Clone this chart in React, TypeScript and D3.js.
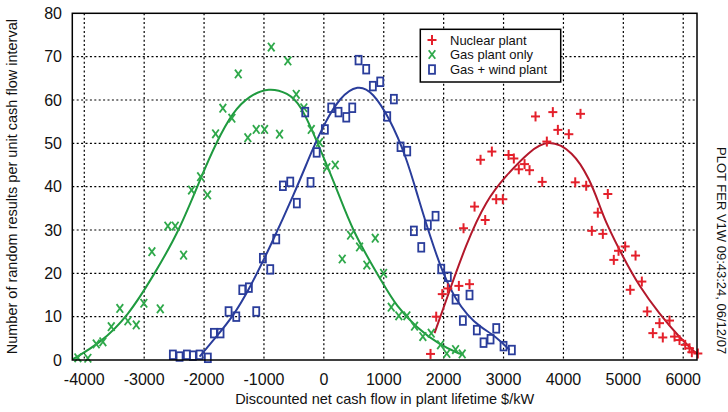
import * as d3 from "d3";

// x ticks and y ticks
const xTicks = [-4000, -3000, -2000, -1000, 0, 1000, 2000, 3000, 4000, 5000, 6000];
const yTicks = [0, 10, 20, 30, 40, 50, 60, 70, 80];

// markers: [cash flow $/kW, count]
const nuclearPts = [
  [1781, 1.4], [1876, 10.0], [1977, 15.2], [2070, 16.5], [2254, 17.1], [2432, 17.5],
  [2332, 30.4], [2516, 35.4], [2616, 46.2], [2694, 32.3], [2805, 48.1], [2878, 37.1],
  [2988, 37.1], [3084, 47.3], [3172, 46.5], [3255, 44.0], [3351, 45.2], [3434, 43.8],
  [3534, 56.2], [3646, 41.1], [3723, 50.4], [3823, 57.2], [3907, 53.1], [4090, 52.1],
  [4197, 41.0], [4285, 56.8], [4380, 40.2], [4474, 29.8], [4574, 34.0], [4658, 29.1],
  [4741, 38.3], [4841, 23.1], [4920, 25.2], [5031, 26.2], [5115, 16.2], [5204, 24.1],
  [5309, 18.1], [5399, 11.2], [5493, 6.2], [5604, 8.5], [5659, 5.2], [5771, 9.1],
  [5855, 5.4], [5938, 4.6], [6033, 3.5], [6105, 2.7], [6144, 1.8], [6244, 1.5],
];

const gasPts = [
  [-4107, 0.5], [-3940, 0.4], [-3800, 3.7], [-3689, 4.2], [-3549, 7.7], [-3406, 11.9],
  [-3272, 9.0], [-3132, 8.1], [-3005, 13.1], [-2871, 25.0], [-2731, 11.8], [-2604, 30.9],
  [-2481, 30.9], [-2342, 24.2], [-2209, 39.2], [-2058, 42.3], [-1942, 38.1], [-1808, 52.2],
  [-1686, 58.1], [-1536, 55.8], [-1429, 66.0], [-1269, 51.3], [-1129, 53.2], [-990, 53.2],
  [-878, 72.2], [-740, 52.1], [-601, 69.0], [-461, 61.3], [-334, 58.2], [-210, 53.2],
  [-72, 50.2], [50, 44.4], [190, 45.0], [307, 23.3], [446, 28.8], [596, 26.1],
  [718, 21.9], [858, 28.1], [997, 20.0], [1125, 12.2], [1252, 10.2], [1386, 10.2],
  [1514, 7.8], [1653, 5.4], [1793, 6.2], [1948, 3.5], [2053, 1.5], [2199, 2.4], [2310, 1.4],
];

const windPts = [
  [-2521, 1.2], [-2409, 0.8], [-2287, 1.2], [-2187, 1.0], [-2075, 1.2], [-1937, 0.5],
  [-1836, 6.2], [-1725, 6.2], [-1591, 11.2], [-1462, 10.0], [-1362, 16.2], [-1252, 16.7],
  [-1129, 11.2], [-1018, 23.5], [-895, 20.9], [-795, 27.9], [-684, 40.2], [-561, 41.1],
  [-451, 36.2], [-311, 57.2], [-222, 41.0], [-120, 47.9], [17, 53.2], [123, 58.2],
  [245, 57.2], [374, 56.0], [474, 58.2], [579, 69.2], [707, 67.1], [818, 63.2],
  [941, 64.2], [1058, 56.2], [1169, 60.2], [1280, 49.2], [1392, 48.2], [1503, 29.8],
  [1626, 26.0], [1736, 31.2], [1865, 33.2], [1960, 21.0], [2070, 19.2], [2199, 14.0],
  [2321, 9.1], [2432, 15.0], [2554, 6.9], [2666, 4.0], [2783, 4.8], [2878, 7.3],
  [3000, 3.2], [3139, 2.3],
];

// fitted curves (smoothed with a basis spline)
const nuclearFit = [
  [1848, 6.2], [2043, 13.8], [2377, 26.9], [2711, 36.9], [3045, 42.6], [3434, 48.2],
  [3750, 51.0], [4157, 48.2], [4436, 41.8], [4600, 35.8], [4715, 31.5], [4992, 23.8],
  [5270, 16.9], [5604, 10.6], [5938, 5.2], [6217, 1.5],
];
const gasFit = [
  [-4190, 0.2], [-3745, 3.8], [-3272, 10], [-2800, 20.5], [-2409, 30], [-2047, 42.3],
  [-1796, 50.2], [-1519, 57.3], [-1240, 61.0], [-918, 62.9], [-600, 61.6], [-389, 59],
  [-117, 50.5], [95, 43.5], [262, 37.7], [480, 30], [800, 22], [985, 17.7], [1208, 12.5],
  [1542, 7.5], [1932, 3.5], [2265, 1.4], [2330, 1.3],
];
const windFit = [
  [-2075, 0.8], [-1800, 5.3], [-1519, 10], [-1240, 16.5], [-908, 25.8], [-489, 38.5],
  [-184, 48.8], [0, 54.3], [262, 60.6], [568, 63.6], [818, 61.8], [1097, 55.8], [1376, 46.9],
  [1569, 37.7], [1793, 27.7], [1987, 20], [2200, 14], [2400, 10.3], [2600, 7.7],
  [2878, 5.4], [3100, 2.3],
];

const W = 728;
const H = 412;
const left = 72.3;
const right = 697;
const top = 13.3;
const bottom = 360;

const RED = "#e4202b";
const RED_LINE = "#b3182b";
const GREEN = "#2ea84a";
const GREEN_LINE = "#1f9a3f";
const BLUE = "#2a3d9b";
const FONT = "Arial, 'Liberation Sans', Helvetica, sans-serif";

const Plus = ({ x, y }) => (
  <g transform={`translate(${x},${y})`} stroke={RED} strokeWidth={2}>
    <line x1={-4.5} x2={4.5} y1={0} y2={0} />
    <line x1={0} x2={0} y1={-5} y2={5} />
  </g>
);

const Cross = ({ x, y }) => (
  <g transform={`translate(${x},${y})`} stroke={GREEN} strokeWidth={1.8}>
    <line x1={-3.3} x2={3.3} y1={-4.3} y2={4.3} />
    <line x1={3.3} x2={-3.3} y1={-4.3} y2={4.3} />
  </g>
);

const Box = ({ x, y }) => (
  <rect x={x - 3} y={y - 4.3} width={6} height={8.6} fill="none" stroke={BLUE} strokeWidth={1.8} />
);

export default function App() {
  const xScale = d3.scaleLinear().domain([-4200, 6230]).range([left, right]);
  const yScale = d3.scaleLinear().domain([0, 80]).range([bottom, top]);

  const line = d3
    .line()
    .x((d) => xScale(d[0]))
    .y((d) => yScale(d[1]))
    .curve(d3.curveBasis);

  return (
    <div style={{ position: "absolute", left: 0, top: 0 }}>
      <svg width={W} height={H} style={{ display: "block", background: "#fff" }} fontFamily={FONT}>
        <defs>
          <clipPath id="plot">
            <rect x={left} y={top} width={right - left} height={bottom - top} />
          </clipPath>
        </defs>

        {/* grid */}
        <g stroke="#000" strokeWidth={1.2} strokeDasharray="2,2.4">
          {xTicks.map((t) => (
            <line key={"gx" + t} x1={xScale(t)} x2={xScale(t)} y1={top} y2={bottom} />
          ))}
          {yTicks.slice(1, -1).map((t) => (
            <line key={"gy" + t} x1={left} x2={right} y1={yScale(t)} y2={yScale(t)} />
          ))}
        </g>

        {/* tick labels */}
        <g fontSize={16} fill="#111">
          {xTicks.map((t) => (
            <text key={"tx" + t} x={xScale(t)} y={385} textAnchor="middle">
              {t}
            </text>
          ))}
          {yTicks.map((t) => (
            <text key={"ty" + t} x={62} y={yScale(t) + 5.8} textAnchor="end">
              {t}
            </text>
          ))}
        </g>

        {/* fitted curves */}
        <g clipPath="url(#plot)" fill="none" strokeWidth={2}>
          <path d={line(gasFit)} stroke={GREEN_LINE} />
          <path d={line(windFit)} stroke={BLUE} />
          <path d={line(nuclearFit)} stroke={RED_LINE} />
        </g>

        {/* markers */}
        <g>
          {gasPts.map((d, i) => (
            <Cross key={"g" + i} x={xScale(d[0])} y={yScale(d[1])} />
          ))}
          {windPts.map((d, i) => (
            <Box key={"b" + i} x={xScale(d[0])} y={yScale(d[1])} />
          ))}
          {nuclearPts.map((d, i) => (
            <Plus key={"r" + i} x={xScale(d[0])} y={yScale(d[1])} />
          ))}
        </g>

        {/* frame */}
        <rect x={left} y={top} width={right - left} height={bottom - top} fill="none" stroke="#000" strokeWidth={1.5} />

        {/* legend */}
        <g>
          <rect x={420.3} y={29.3} width={140.4} height={52.7} fill="#fff" stroke="#000" strokeWidth={1.5} />
          <Plus x={432} y={40} />
          <Cross x={432} y={54.5} />
          <Box x={432} y={69.5} />
          <g fontSize={13} fill="#111">
            <text x={450} y={44.5}>Nuclear plant</text>
            <text x={450} y={59}>Gas plant only</text>
            <text x={450} y={74}>Gas + wind plant</text>
          </g>
        </g>

        {/* axis titles */}
        <text x={(left + right) / 2} y={403.5} textAnchor="middle" fontSize={14.5} fill="#111">
          Discounted net cash flow in plant lifetime $/kW
        </text>
        <text
          transform={`translate(16.5,${(top + bottom) / 2}) rotate(-90)`}
          textAnchor="middle"
          fontSize={14.5}
          fill="#111"
        >
          Number of random results per unit cash flow interval
        </text>
        <text transform="translate(716.5,147) rotate(90)" fontSize={13} fill="#111">
          PLOT FER V1W 09:43:24, 06/12/07
        </text>
      </svg>
    </div>
  );
}
